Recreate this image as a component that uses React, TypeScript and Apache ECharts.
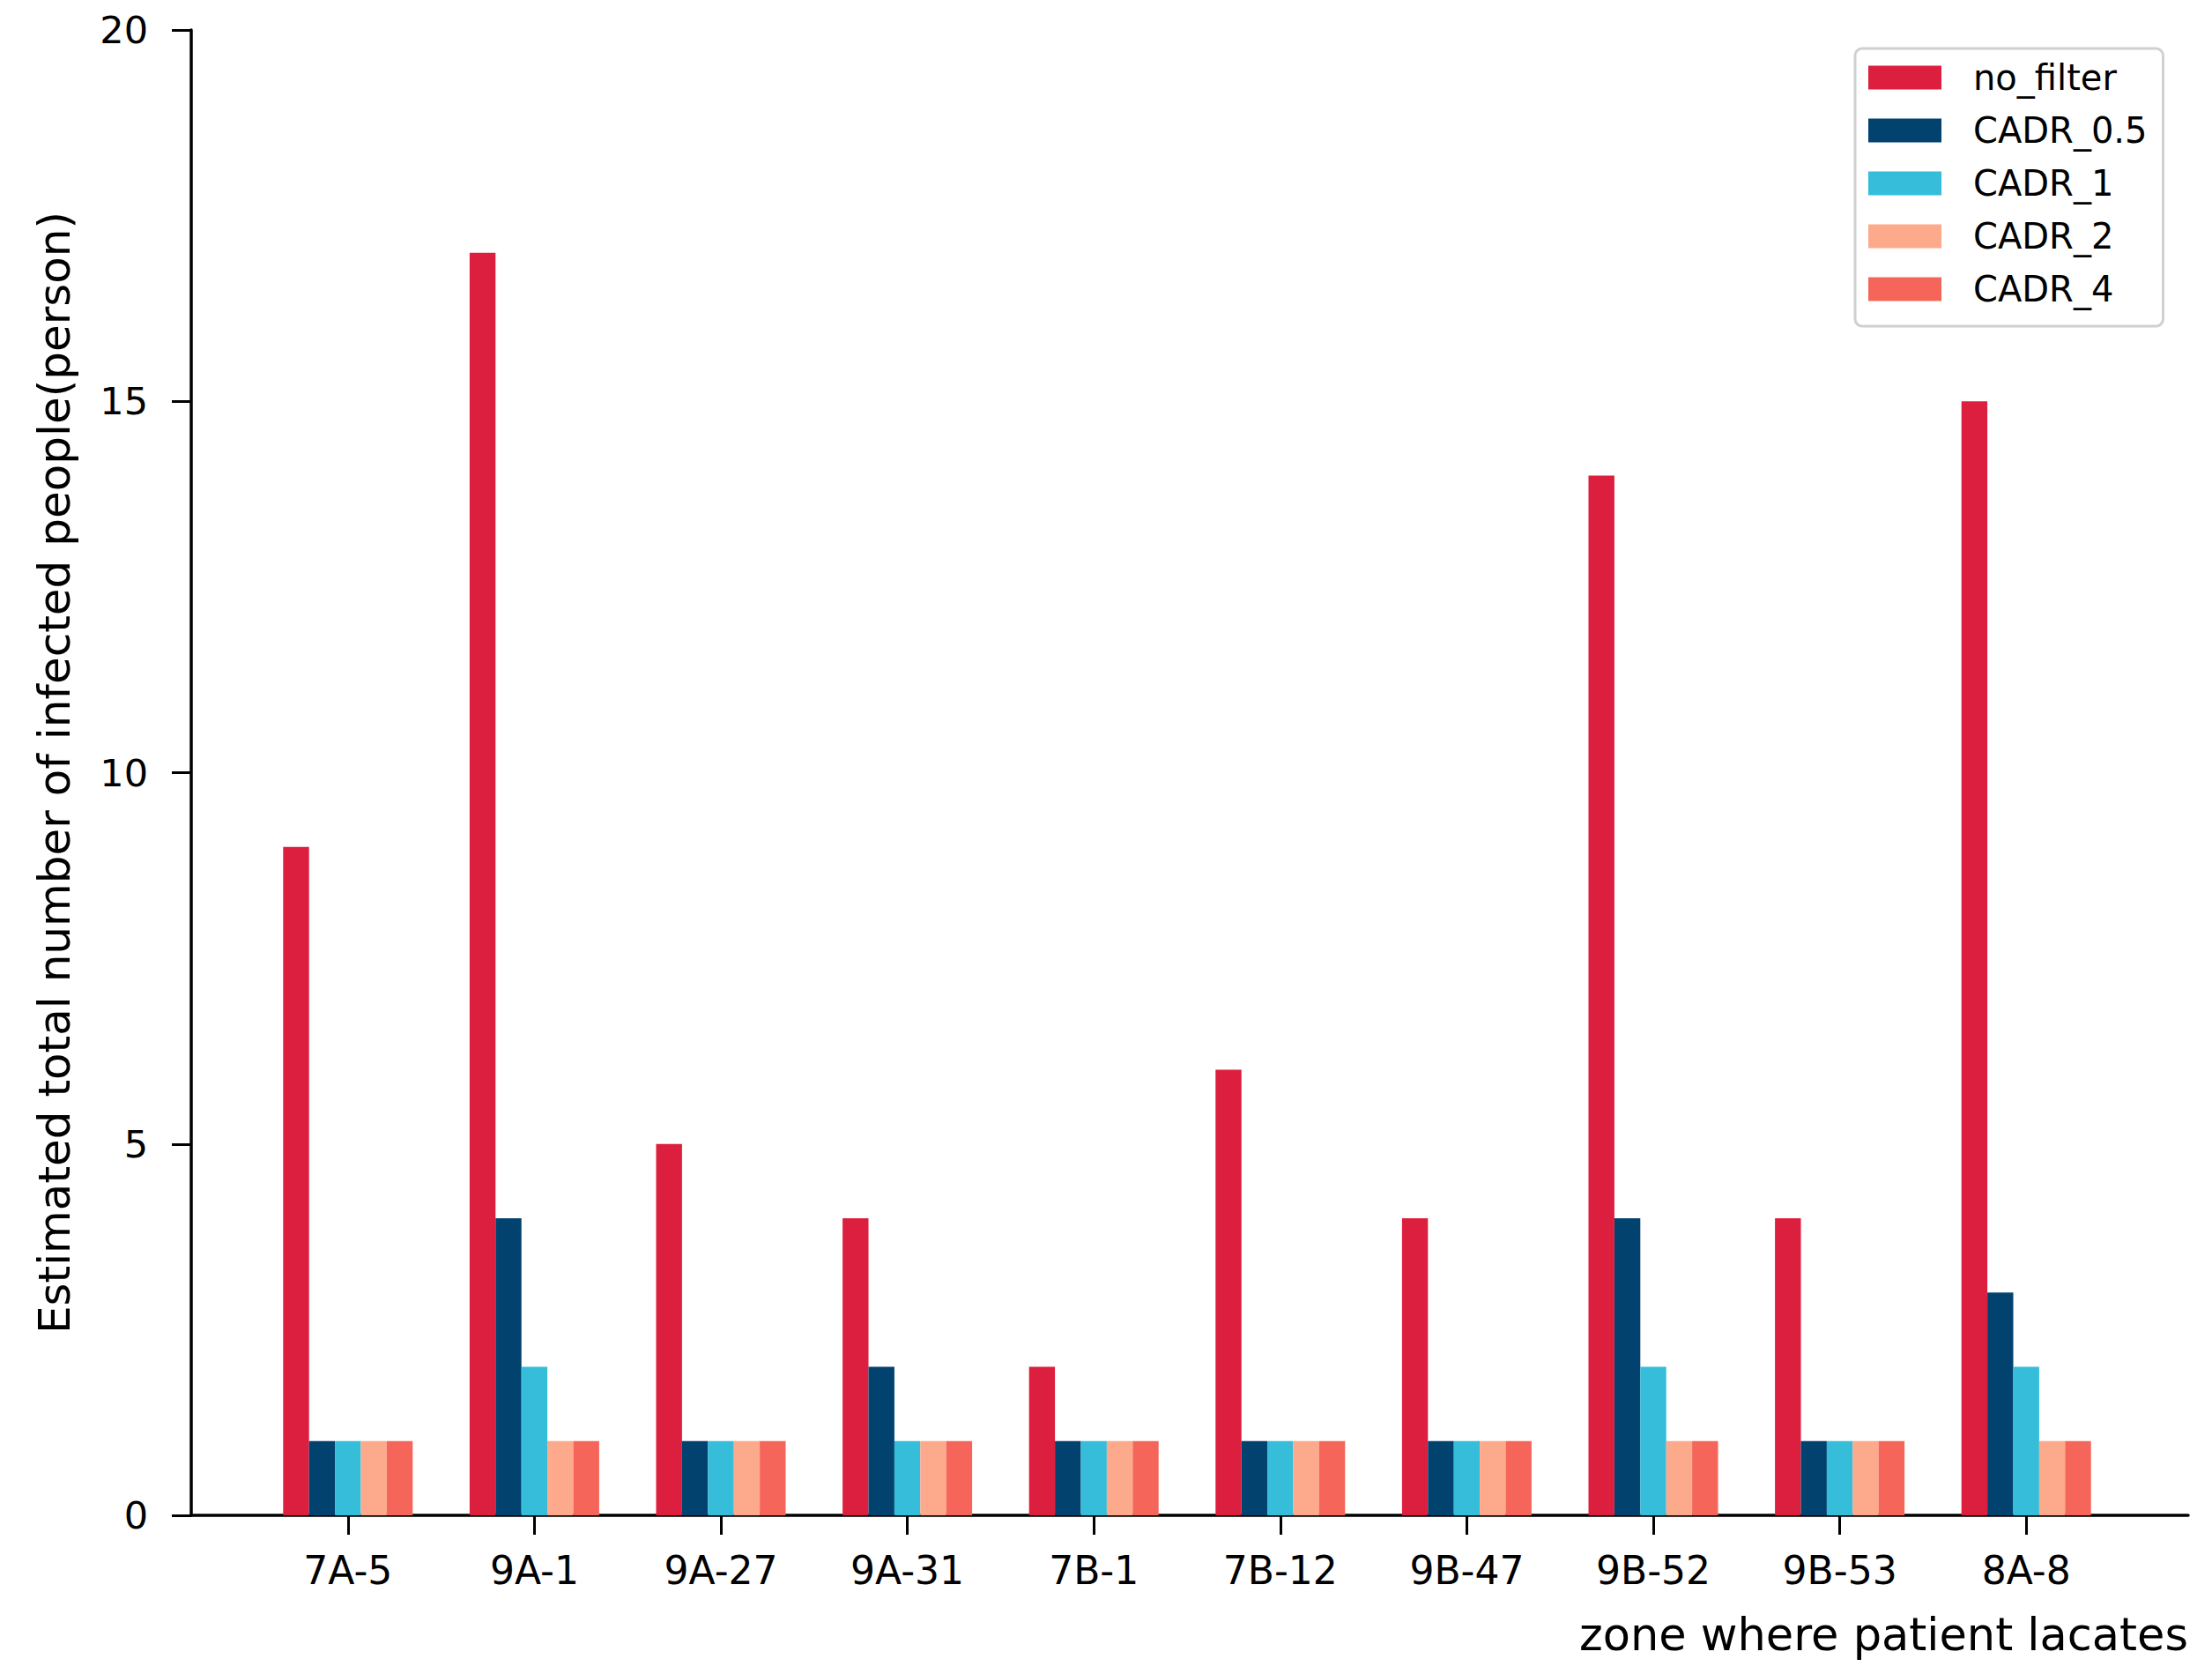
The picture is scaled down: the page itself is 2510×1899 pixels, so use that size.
import React, { useEffect, useRef } from "react";
import * as echarts from "echarts";

const categories = ["7A-5", "9A-1", "9A-27", "9A-31", "7B-1", "7B-12", "9B-47", "9B-52", "9B-53", "8A-8"];
const noFilter = [9, 17, 5, 4, 2, 6, 4, 14, 4, 15];
const cadr05 = [1, 4, 1, 2, 1, 1, 1, 4, 1, 3];
const cadr1 = [1, 2, 1, 1, 1, 1, 1, 2, 1, 2];
const cadr2 = [1, 1, 1, 1, 1, 1, 1, 1, 1, 1];
const cadr4 = [1, 1, 1, 1, 1, 1, 1, 1, 1, 1];
const seriesNames = ["no_filter", "CADR_0.5", "CADR_1", "CADR_2", "CADR_4"];
const seriesColors = ["#DC1F3E", "#01426F", "#35BDDA", "#FDA98C", "#F5655A"];
const yTicks = { min: 0, max: 20, interval: 5 };

const FONT = "DejaVu Sans";

export default function App() {
  const ref = useRef<HTMLDivElement>(null);
  useEffect(() => {
    document.body.style.margin = "0";
    if (!ref.current) return;
    const chart = echarts.init(ref.current, null, { renderer: "svg" });
    const values = [noFilter, cadr05, cadr1, cadr2, cadr4];
    const top = 34;
    const bottom = 1899 - 1719;
    const catLeft = 289;
    const catWidth = 2116;
    const axisLeft = 217;
    const axisRight = 2483;
    chart.setOption({
      animation: false,
      backgroundColor: "#ffffff",
      grid: [
        { left: catLeft, width: catWidth, top, bottom },
        { left: axisLeft, right: 2510 - axisRight, top, bottom },
      ],
      legend: {
        orient: "vertical",
        left: 2105,
        top: 55,
        icon: "rect",
        itemWidth: 83,
        itemHeight: 27,
        itemGap: 20,
        padding: [13, 18, 22, 15],
        borderColor: "#d0d0d0",
        borderWidth: 3,
        borderRadius: 8,
        backgroundColor: "#ffffff",
        textStyle: { fontFamily: FONT, fontSize: 40, color: "#000", padding: [0, 0, 0, 31] },
        data: seriesNames,
      },
      xAxis: [
        {
          type: "category",
          gridIndex: 0,
          data: categories,
          boundaryGap: true,
          axisLine: { show: false },
          axisTick: { show: true, alignWithLabel: true, length: 22, lineStyle: { color: "#000", width: 3 } },
          axisLabel: { fontFamily: FONT, fontSize: 44, color: "#000", margin: 40 },
          splitLine: { show: false },
        },
        {
          type: "value",
          gridIndex: 1,
          min: 0,
          max: 1,
          axisLine: { show: true, lineStyle: { color: "#000", width: 3.5 } },
          axisTick: { show: false },
          axisLabel: { show: false },
          splitLine: { show: false },
          name: "zone where patient lacates",
          nameLocation: "end",
          nameGap: 0,
          nameTextStyle: {
            fontFamily: FONT,
            fontSize: 51,
            color: "#000",
            align: "right",
            verticalAlign: "top",
            padding: [110, 0, 0, 0],
          },
        },
      ],
      yAxis: [
        {
          type: "value",
          gridIndex: 0,
          min: yTicks.min,
          max: yTicks.max,
          interval: yTicks.interval,
          offset: catLeft - axisLeft,
          axisLine: { show: true, lineStyle: { color: "#000", width: 3.5 } },
          axisTick: { show: true, length: 22, lineStyle: { color: "#000", width: 3 } },
          axisLabel: { fontFamily: FONT, fontSize: 43, color: "#000", margin: 49 },
          splitLine: { show: false },
          name: "Estimated total number of infected people(person)",
          nameLocation: "middle",
          nameRotate: 90,
          nameGap: 130,
          nameTextStyle: { fontFamily: FONT, fontSize: 50, color: "#000" },
        },
        {
          type: "value",
          gridIndex: 1,
          show: false,
        },
      ],
      series: seriesNames.map((name, i) => ({
        name,
        type: "bar",
        xAxisIndex: 0,
        yAxisIndex: 0,
        data: values[i],
        barWidth: 29.4,
        barGap: "0%",
        itemStyle: { color: seriesColors[i] },
      })),
    });
    return () => chart.dispose();
  }, []);
  return <div ref={ref} style={{ width: 2510, height: 1899 }} />;
}
